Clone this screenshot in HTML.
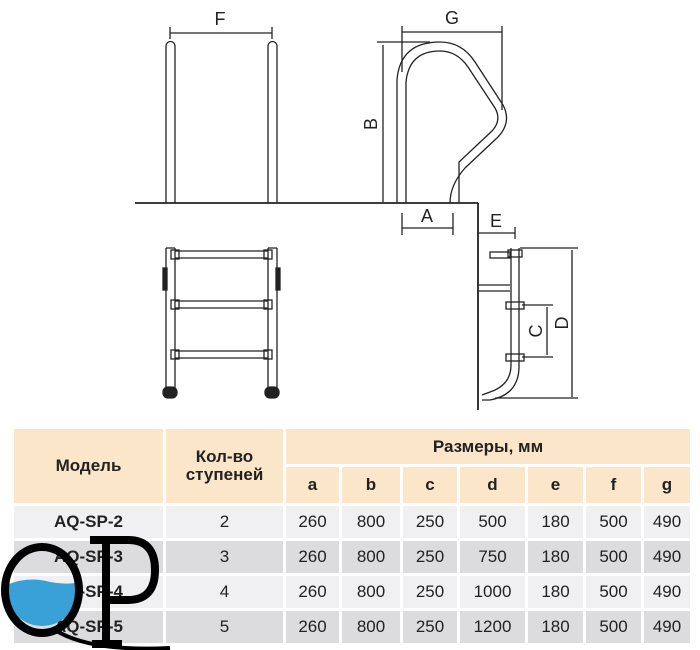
<!DOCTYPE html>
<html><head><meta charset="utf-8"><style>
body{margin:0;width:700px;height:650px;background:#fff;overflow:hidden;position:relative;font-family:"Liberation Sans",sans-serif}
.c{position:absolute;display:flex;align-items:center;justify-content:center;color:#222;font-size:17px}
.h{background:#fbe6c9;font-weight:bold}
.l{background:#f0f0f2}.d{background:#dcdcdf}
</style></head><body>
<svg width="700" height="420" style="position:absolute;left:0;top:0" fill="none" stroke="#222" stroke-width="1.3">
<line x1="135" y1="203" x2="478" y2="203" stroke-width="1.8"/>
<line x1="478" y1="203" x2="478" y2="410" stroke-width="1.8"/>
<path d="M166 203V46a4.5 4.5 0 0 1 9 0V203M268 203V46a4.5 4.5 0 0 1 9 0V203"/>
<line x1="170" y1="33" x2="272" y2="33"/><line x1="170" y1="27" x2="170" y2="39"/><line x1="272" y1="27" x2="272" y2="39"/>
<text x="220" y="25" font-size="18" fill="#222" stroke="none" text-anchor="middle">F</text>
<path d="M397 203V80Q400 42 440 42Q462 42 475 62L503 105Q512 122 498 137L465 168Q450 185 450 203"/>
<path d="M406 203V82Q409 51 440 51Q457 51 468 67L495 108Q502 120 492 131L459 162Q459 185 459 203"/>
<line x1="402" y1="32" x2="502" y2="32"/><line x1="402" y1="26" x2="402" y2="72"/><line x1="502" y1="26" x2="502" y2="110"/>
<text x="452" y="24" font-size="18" fill="#222" stroke="none" text-anchor="middle">G</text>
<line x1="383" y1="45" x2="383" y2="202"/><line x1="377" y1="42" x2="430" y2="42"/>
<text x="377" y="124" font-size="18" fill="#222" stroke="none" text-anchor="middle" transform="rotate(-90 377 124)">B</text>
<line x1="402" y1="228" x2="453" y2="228"/><line x1="402" y1="213" x2="402" y2="235"/><line x1="453" y1="213" x2="453" y2="235"/>
<text x="427" y="222" font-size="18" fill="#222" stroke="none" text-anchor="middle">A</text>
<line x1="478" y1="233" x2="515" y2="233"/><line x1="515" y1="227" x2="515" y2="239"/>
<text x="496" y="227" font-size="18" fill="#222" stroke="none" text-anchor="middle">E</text>
<path d="M511 248V365Q511 385 490 392L482 395M519 248V368Q518 395 490 400L482 400"/>
<rect x="508" y="250" width="14" height="7"/><rect x="490" y="252" width="20" height="6"/>
<path d="M478 285H510M478 291H510"/>
<rect x="506" y="302" width="18" height="7"/><rect x="506" y="354" width="18" height="7"/>
<line x1="520" y1="248" x2="578" y2="248"/><line x1="572" y1="250" x2="572" y2="397"/><line x1="495" y1="398" x2="578" y2="398"/>
<line x1="522" y1="305" x2="553" y2="305"/><line x1="522" y1="357" x2="553" y2="357"/><line x1="547" y1="307" x2="547" y2="355"/>
<text x="542" y="331" font-size="18" fill="#222" stroke="none" text-anchor="middle" transform="rotate(-90 542 331)">C</text>
<text x="568" y="323" font-size="18" fill="#222" stroke="none" text-anchor="middle" transform="rotate(-90 568 323)">D</text>
<path d="M166 248V390M175 248V390M268 248V390M277 248V390M166 248H175M268 248H277"/>
<rect x="163" y="387" width="14" height="11" rx="5" fill="#222"/><rect x="265" y="387" width="14" height="11" rx="5" fill="#222"/>
<rect x="163" y="268" width="4" height="22" fill="#222"/><rect x="276" y="268" width="4" height="22" fill="#222"/>
<g><path d="M175 251H268M175 258H268M175 301H268M175 308H268M175 351H268M175 358H268"/>
<rect x="171" y="250" width="8" height="9"/><rect x="264" y="250" width="8" height="9"/>
<rect x="171" y="300" width="8" height="9"/><rect x="264" y="300" width="8" height="9"/>
<rect x="171" y="350" width="8" height="9"/><rect x="264" y="350" width="8" height="9"/></g>
</svg>
<div class="c h" style="left:14px;top:429px;width:149px;height:74px">Модель</div>
<div class="c h" style="left:166px;top:429px;width:117px;height:74px;line-height:18px;text-align:center">Кол-во<br>ступеней</div>
<div class="c h" style="left:286px;top:429px;width:404px;height:35px">Размеры, мм</div>
<div id="tb"></div>
<script>
var xs=[[286,53],[342,58],[403,54],[460,65],[528,55],[586,55],[644,46]];
var hd=['a','b','c','d','e','f','g'];
var rows=[['AQ-SP-2','2','260','800','250','500','180','500','490'],['AQ-SP-3','3','260','800','250','750','180','500','490'],['AQ-SP-4','4','260','800','250','1000','180','500','490'],['AQ-SP-5','5','260','800','250','1200','180','500','490']];
var h='';
xs.forEach(function(x,i){h+='<div class="c h" style="left:'+x[0]+'px;top:467px;width:'+x[1]+'px;height:36px">'+hd[i]+'</div>';});
var cols=[[14,149],[166,117]].concat(xs);
rows.forEach(function(r,j){var y=506+j*35;var cl=j%2?'d':'l';
r.forEach(function(t,i){h+='<div class="c '+cl+'" style="left:'+cols[i][0]+'px;top:'+y+'px;width:'+cols[i][1]+'px;height:32px;'+(i==0?'font-weight:bold;':'')+'">'+t+'</div>';});});
document.getElementById('tb').innerHTML=h;
</script>
<svg width="180" height="130" style="position:absolute;left:0;top:520px">
<defs><clipPath id="q"><circle cx="42" cy="70" r="36"/></clipPath></defs>
<path d="M0 68Q25 55 50 62Q70 66 90 60V130H0Z" fill="#3aa0d8" clip-path="url(#q)"/>
<ellipse cx="42" cy="70" rx="37" ry="43" fill="none" stroke="#000" stroke-width="8"/>
<path d="M55 110Q90 132 170 128" stroke="#000" stroke-width="4" fill="none"/>
<path d="M106 20V124M90 20H128Q155 20 155 50Q155 80 128 80H106M92 124H122" stroke="#000" stroke-width="8" fill="none"/>
</svg>
</body></html>
